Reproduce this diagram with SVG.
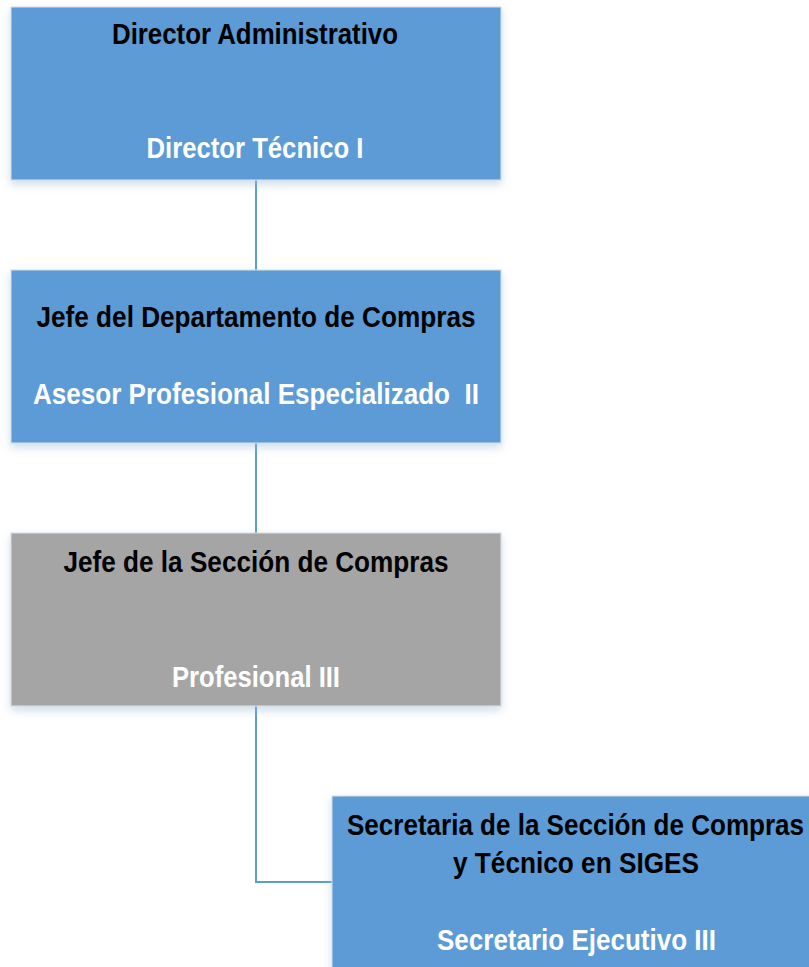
<svg xmlns="http://www.w3.org/2000/svg" width="809" height="967" viewBox="0 0 809 967">
<style>
.box{stroke:#d6e0ea;stroke-width:1;}
.blue{fill:#5B9BD5;}
.gray{fill:#A5A5A5;}
.t{font-family:"Liberation Sans",Arial,sans-serif;font-weight:bold;font-size:29px;}
.dark{fill:#000000;}
.light{fill:#FFFFFF;}
.conn{fill:none;stroke:#5B9BD5;stroke-width:2;}
</style>
<defs>
<filter id="sh" x="-5%" y="-10%" width="110%" height="130%">
<feGaussianBlur in="SourceAlpha" stdDeviation="4"/>
<feOffset dx="0" dy="4" result="b"/>
<feFlood flood-color="#9fb8d4" flood-opacity="0.5"/>
<feComposite in2="b" operator="in"/>
<feMerge><feMergeNode/><feMergeNode in="SourceGraphic"/></feMerge>
</filter>
</defs>
<rect width="809" height="967" fill="#FFFFFF"/>
<g id="connectors">
<line class="conn" x1="256" y1="180" x2="256" y2="270"/>
<line class="conn" x1="256" y1="443" x2="256" y2="533"/>
<polyline class="conn" points="256,706 256,882 333,882"/>
</g>
<g id="node1">
<rect class="box blue" x="11" y="7" width="490" height="173" filter="url(#sh)"/>
<text class="t dark" x="255" y="44" text-anchor="middle" textLength="286" lengthAdjust="spacingAndGlyphs">Director Administrativo</text>
<text class="t light" x="255" y="158" text-anchor="middle" textLength="217" lengthAdjust="spacingAndGlyphs">Director Técnico I</text>
</g>
<g id="node2">
<rect class="box blue" x="11" y="270" width="490" height="173" filter="url(#sh)"/>
<text class="t dark" x="256" y="327" text-anchor="middle" textLength="439" lengthAdjust="spacingAndGlyphs">Jefe del Departamento de Compras</text>
<text class="t light" x="256" y="404" text-anchor="middle" textLength="446" lengthAdjust="spacingAndGlyphs" xml:space="preserve">Asesor Profesional Especializado  II</text>
</g>
<g id="node3">
<rect class="box gray" x="11" y="533" width="490" height="173" filter="url(#sh)"/>
<text class="t dark" x="256" y="572" text-anchor="middle" textLength="385" lengthAdjust="spacingAndGlyphs">Jefe de la Sección de Compras</text>
<text class="t light" x="256" y="687" text-anchor="middle" textLength="168" lengthAdjust="spacingAndGlyphs">Profesional III</text>
</g>
<g id="node4">
<rect class="box blue" x="332" y="796" width="490" height="180" filter="url(#sh)"/>
<text class="t dark" x="575.5" y="835" text-anchor="middle" textLength="457" lengthAdjust="spacingAndGlyphs">Secretaria de la Sección de Compras</text>
<text class="t dark" x="576" y="873" text-anchor="middle" textLength="246" lengthAdjust="spacingAndGlyphs">y Técnico en SIGES</text>
<text class="t light" x="576.5" y="950" text-anchor="middle" textLength="279" lengthAdjust="spacingAndGlyphs">Secretario Ejecutivo III</text>
</g>
</svg>
